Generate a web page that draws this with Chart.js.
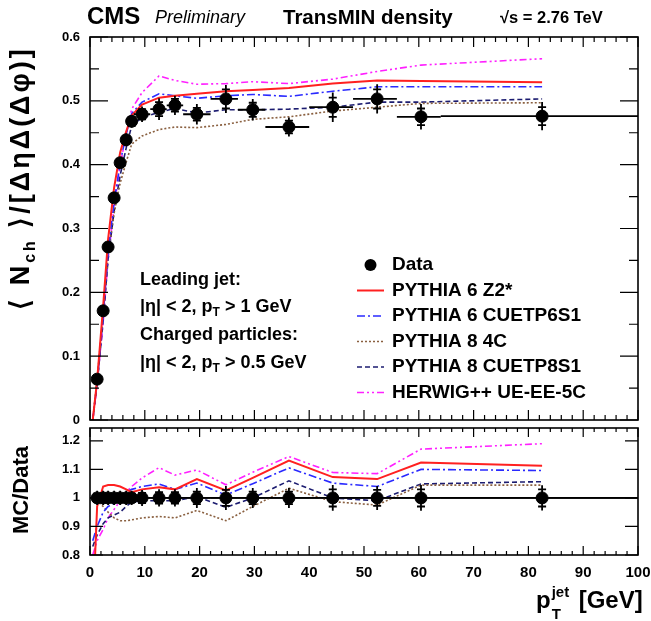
<!DOCTYPE html>
<html>
<head>
<meta charset="utf-8">
<script src="https://cdn.jsdelivr.net/npm/chart.js@4.4.0/dist/chart.umd.min.js"></script>
<style>
  body { margin: 0; background: #fff; }
  #wrap { position: relative; width: 651px; height: 621px; overflow: hidden;
          font-family: "Liberation Sans", Arial, sans-serif; font-weight: bold; color: #000; }
  canvas { position: absolute; left: 0; }
  .t { position: absolute; white-space: nowrap; line-height: 1; }
  .t sub { font-size: 12px; vertical-align: -4px; line-height: 0; }
  .ytitle { position: absolute; transform-origin: 0 0; transform: rotate(-90deg);
            text-align: center; white-space: nowrap; line-height: 1; font-size: 22px; }
</style>
</head>
<body>
<div id="wrap">
  <canvas id="topChart" width="651" height="428" style="top:0"></canvas>
  <canvas id="ratioChart" width="651" height="211" style="top:410px"></canvas>

  <div class="t" style="left:87px; top:4px; font-size:24px;">CMS</div>
  <div class="t" style="left:155px; top:8px; font-size:18px; font-weight:normal; font-style:italic;">Preliminary</div>
  <div class="t" style="left:283px; top:7px; font-size:20.5px;">TransMIN density</div>
  <div class="t" style="left:500px; top:9px; font-size:16.5px;">&radic;s = 2.76 TeV</div>

  <div class="ytitle" style="left:7px; top:318px; width:280px; font-size:27px; letter-spacing:3px;">&#10216; N<sub style="font-size:16px; vertical-align:-6px;">ch</sub> &#10217;/[&Delta;&eta;&Delta;(&Delta;&phi;)]</div>
  <div class="ytitle" style="left:10px; top:540px; width:100px;">MC/Data</div>

  <div class="t" style="left:140px; top:270px; font-size:18px;">Leading jet:</div>
  <div class="t" style="left:140px; top:297px; font-size:18px;">|&eta;| &lt; 2, p<sub>T</sub> &gt; 1 GeV</div>
  <div class="t" style="left:140px; top:325px; font-size:18px;">Charged particles:</div>
  <div class="t" style="left:140px; top:353px; font-size:18px;">|&eta;| &lt; 2, p<sub>T</sub> &gt; 0.5 GeV</div>

  <div class="t" style="left:536px; top:588px; font-size:24px;">p<span style="display:inline-block; position:relative; width:28px; height:10px;"><span style="position:absolute; left:1px; top:-14px; font-size:15px;">jet</span><span style="position:absolute; left:1px; top:8px; font-size:15px;">T</span></span>[GeV]</div>
</div>

<script>
// data points (bin mean pT, bin edges, density, errors)
const ptX     = [1.3, 2.4, 3.3, 4.4, 5.5, 6.6, 7.6, 9.5, 12.6, 15.5, 19.5, 24.8, 29.7, 36.3, 44.3, 52.4, 60.4, 82.5];
const binLo   = [1, 2, 3, 4, 5, 6, 7, 8, 11, 14, 17, 22, 27, 32, 40, 48, 56, 64];
const binHi   = [2, 3, 4, 5, 6, 7, 8, 11, 14, 17, 22, 27, 32, 40, 48, 56, 64, 100];
const dataY   = [0.064, 0.171, 0.271, 0.348, 0.403, 0.439, 0.468, 0.479, 0.487, 0.493, 0.479, 0.503, 0.486, 0.459, 0.490, 0.503, 0.475, 0.476];
const dataErr = [0.003, 0.005, 0.007, 0.008, 0.009, 0.010, 0.010, 0.012, 0.017, 0.015, 0.016, 0.022, 0.017, 0.015, 0.023, 0.023, 0.020, 0.022];
const dataErrIn = [0.002, 0.003, 0.004, 0.005, 0.006, 0.006, 0.007, 0.008, 0.011, 0.010, 0.010, 0.015, 0.011, 0.010, 0.015, 0.015, 0.013, 0.014];
const ratioY   = [1, 1, 1, 1, 1, 1, 1, 1, 1, 1, 1, 1, 1, 1, 1, 1, 1, 1];
const ratioErr = [0.025, 0.025, 0.025, 0.025, 0.025, 0.025, 0.025, 0.028, 0.03, 0.03, 0.035, 0.042, 0.035, 0.035, 0.045, 0.042, 0.045, 0.044];
const ratioErrIn = [0.015, 0.015, 0.015, 0.015, 0.015, 0.015, 0.015, 0.018, 0.02, 0.02, 0.022, 0.028, 0.022, 0.022, 0.03, 0.028, 0.03, 0.03];

// MC predictions, same pT points plus a starting point
const mcX = [0.5].concat(ptX);
const z2Top      = [0.0, 0.062, 0.178, 0.283, 0.364, 0.419, 0.452, 0.477, 0.494, 0.505, 0.508, 0.511, 0.515, 0.517, 0.520, 0.527, 0.532, 0.531, 0.529];
const cuetp6Top  = [0.0, 0.058, 0.163, 0.263, 0.341, 0.403, 0.448, 0.480, 0.498, 0.511, 0.508, 0.504, 0.508, 0.510, 0.507, 0.515, 0.522, 0.522, 0.522];
const p8c4Top    = [0.0, 0.063, 0.166, 0.257, 0.324, 0.371, 0.404, 0.432, 0.445, 0.455, 0.459, 0.458, 0.463, 0.471, 0.475, 0.484, 0.490, 0.496, 0.497];
const cuetp8Top  = [0.0, 0.056, 0.156, 0.252, 0.327, 0.383, 0.426, 0.461, 0.474, 0.482, 0.488, 0.481, 0.486, 0.486, 0.487, 0.490, 0.498, 0.498, 0.503];
const herwigTop  = [0.0, 0.055, 0.153, 0.252, 0.334, 0.399, 0.448, 0.487, 0.513, 0.539, 0.532, 0.526, 0.527, 0.530, 0.527, 0.534, 0.546, 0.556, 0.566];

const z2Ratio     = [0.60, 0.97, 1.04, 1.045, 1.045, 1.04, 1.03, 1.02, 1.03, 1.037, 1.03, 1.066, 1.026, 1.07, 1.131, 1.073, 1.066, 1.124, 1.113];
const cuetp6Ratio = [0.85, 0.90, 0.95, 0.97, 0.98, 1.00, 1.02, 1.03, 1.04, 1.049, 1.03, 1.052, 1.01, 1.05, 1.105, 1.052, 1.04, 1.10, 1.096];
const p8c4Ratio   = [1.00, 0.99, 0.97, 0.95, 0.93, 0.92, 0.92, 0.923, 0.93, 0.935, 0.93, 0.956, 0.92, 0.97, 1.034, 0.987, 0.975, 1.045, 1.045];
const cuetp8Ratio = [0.83, 0.87, 0.91, 0.93, 0.94, 0.95, 0.97, 0.985, 0.99, 0.99, 0.99, 1.005, 0.967, 1.0, 1.06, 1.0, 0.99, 1.049, 1.057];
const herwigRatio = [0.80, 0.85, 0.89, 0.93, 0.96, 0.99, 1.02, 1.04, 1.07, 1.106, 1.08, 1.098, 1.046, 1.09, 1.145, 1.089, 1.085, 1.171, 1.19];

const xTicks = [0, 10, 20, 30, 40, 50, 60, 70, 80, 90, 100];
const topYTicks = [0, 0.1, 0.2, 0.3, 0.4, 0.5, 0.6];
const ratioYTicks = [0.8, 0.9, 1.0, 1.1, 1.2];
const unityX = [0, 100];
const unityY = [1, 1];

const FONT = "'Liberation Sans', Arial, sans-serif";

const mcStyles = [
  { label: "PYTHIA 6 Z2*",      color: "#ff2020", dash: [],                  width: 2 },
  { label: "PYTHIA 6 CUETP6S1", color: "#2a2aff", dash: [8, 3, 2, 3],        width: 1.6 },
  { label: "PYTHIA 8 4C",       color: "#8a6040", dash: [2, 2],              width: 1.6 },
  { label: "PYTHIA 8 CUETP8S1", color: "#1c1c70", dash: [5, 3],              width: 1.6 },
  { label: "HERWIG++ UE-EE-5C", color: "#ff20ff", dash: [7, 3, 2, 3, 2, 3],  width: 1.6 }
];

function pts(xs, ys) {
  return xs.map((x, i) => ({ x, y: ys[i] }));
}

function mcSets(series) {
  return series.map((ys, i) => ({
    label: mcStyles[i].label,
    data: pts(mcX, ys),
    showLine: true,
    borderColor: mcStyles[i].color,
    borderDash: mcStyles[i].dash,
    borderWidth: mcStyles[i].width,
    pointRadius: 0,
    tension: 0
  }));
}

// inward ticks on all four sides + frame
const frameTicks = {
  id: "frameTicks",
  afterDatasetsDraw(chart, args, o) {
    const { ctx, chartArea: a, scales } = chart;
    ctx.save();
    ctx.strokeStyle = "#000";
    ctx.lineWidth = 1.2;
    ctx.beginPath();
    for (let i = 0; i < xTicks.length; i++) {
      const v = xTicks[i];
      const sub = i < xTicks.length - 1 ? (xTicks[i + 1] - v) / 5 : 0;
      for (let k = 0; k < (sub ? 5 : 1); k++) {
        const px = scales.x.getPixelForValue(v + k * sub);
        const len = k === 0 ? o.xMajor : o.xMinor;
        ctx.moveTo(px, a.bottom); ctx.lineTo(px, a.bottom - len);
        ctx.moveTo(px, a.top); ctx.lineTo(px, a.top + len);
      }
    }
    const yt = o.yTicks;
    for (let i = 0; i < yt.length; i++) {
      const draw = (v, len) => {
        const py = scales.y.getPixelForValue(v);
        ctx.moveTo(a.left, py); ctx.lineTo(a.left + len, py);
        ctx.moveTo(a.right, py); ctx.lineTo(a.right - len, py);
      };
      draw(yt[i], o.yMajor);
      if (o.yMinor && i < yt.length - 1) draw((yt[i] + yt[i + 1]) / 2, o.yMinor);
    }
    ctx.stroke();
    ctx.lineWidth = 1.6;
    ctx.strokeRect(a.left, a.top, a.width, a.height);
    ctx.restore();
  }
};

// x bin widths and vertical error bars with inner caps
const errorBars = {
  id: "errorBars",
  afterDatasetsDraw(chart) {
    const { ctx, scales: { x, y } } = chart;
    ctx.save();
    ctx.strokeStyle = "#000";
    ctx.lineWidth = 1.8;
    chart.data.datasets.forEach(ds => {
      if (!ds.errTot) return;
      ds.data.forEach((p, j) => {
        const px = x.getPixelForValue(p.x), py = y.getPixelForValue(p.y);
        ctx.beginPath();
        ctx.moveTo(x.getPixelForValue(ds.xLo[j]), py);
        ctx.lineTo(x.getPixelForValue(ds.xHi[j]), py);
        ctx.moveTo(px, y.getPixelForValue(p.y + ds.errTot[j]));
        ctx.lineTo(px, y.getPixelForValue(p.y - ds.errTot[j]));
        [1, -1].forEach(s => {
          const cy = y.getPixelForValue(p.y + s * ds.errIn[j]);
          ctx.moveTo(px - 4, cy); ctx.lineTo(px + 4, cy);
        });
        ctx.stroke();
      });
    });
    ctx.restore();
  }
};

const legendBox = {
  id: "legendBox",
  afterDraw(chart, args, o) {
    const ctx = chart.ctx;
    ctx.save();
    ctx.font = "bold 19px " + FONT;
    ctx.textBaseline = "middle";
    chart.data.datasets.forEach((ds, i) => {
      const y = o.y0 + i * o.dy;
      if (ds.showLine) {
        ctx.strokeStyle = ds.borderColor;
        ctx.lineWidth = ds.borderWidth;
        ctx.setLineDash(ds.borderDash);
        ctx.beginPath();
        ctx.moveTo(o.x0, y); ctx.lineTo(o.x1, y);
        ctx.stroke();
        ctx.setLineDash([]);
      } else {
        ctx.fillStyle = "#000";
        ctx.beginPath();
        ctx.arc((o.x0 + o.x1) / 2, y, 6, 0, Math.PI * 2);
        ctx.fill();
      }
      ctx.fillStyle = "#000";
      ctx.fillText(ds.label, o.textX, y);
    });
    ctx.restore();
  }
};

const tickFont = { family: FONT, size: 13, weight: "bold" };

function yAxis(min, max, ticks, fmt) {
  return {
    type: "linear", min, max,
    grid: { display: false, drawTicks: false },
    border: { display: false },
    afterBuildTicks: s => { s.ticks = ticks.map(v => ({ value: v })); },
    afterFit: s => { s.width = 90; s.paddingTop = 0; s.paddingBottom = 0; },
    ticks: { font: tickFont, color: "#000", padding: 10, callback: fmt }
  };
}

new Chart(document.getElementById("topChart"), {
  type: "scatter",
  data: {
    datasets: [{
      label: "Data",
      data: pts(ptX, dataY),
      pointRadius: 6,
      pointBackgroundColor: "#000",
      pointBorderColor: "#000",
      showLine: false,
      errTot: dataErr, errIn: dataErrIn, xLo: binLo, xHi: binHi
    }].concat(mcSets([z2Top, cuetp6Top, p8c4Top, cuetp8Top, herwigTop]))
  },
  options: {
    responsive: false,
    animation: false,
    layout: { padding: { top: 37, right: 13, bottom: 8, left: 0 } },
    scales: {
      x: { type: "linear", min: 0, max: 100, display: false },
      y: yAxis(0, 0.6, topYTicks, v => v === 0 ? "0" : v.toFixed(1))
    },
    plugins: {
      legend: { display: false },
      tooltip: { enabled: false },
      frameTicks: { xMajor: 10, xMinor: 5, yMajor: 18, yMinor: 9, yTicks: topYTicks },
      legendBox: { x0: 357, x1: 384, textX: 392, y0: 265, dy: 25.5 }
    }
  },
  plugins: [errorBars, frameTicks, legendBox]
});

new Chart(document.getElementById("ratioChart"), {
  type: "scatter",
  data: {
    datasets: [{
      label: "Data",
      data: pts(ptX, ratioY),
      pointRadius: 6,
      pointBackgroundColor: "#000",
      pointBorderColor: "#000",
      showLine: false,
      errTot: ratioErr, errIn: ratioErrIn, xLo: binLo, xHi: binHi
    }].concat(mcSets([z2Ratio, cuetp6Ratio, p8c4Ratio, cuetp8Ratio, herwigRatio]), [{
      label: "unity",
      data: pts(unityX, unityY),
      showLine: true,
      borderColor: "#000",
      borderWidth: 1.6,
      pointRadius: 0
    }])
  },
  options: {
    responsive: false,
    animation: false,
    layout: { padding: { top: 18, right: 13, bottom: 0, left: 0 } },
    scales: {
      x: {
        type: "linear", min: 0, max: 100,
        grid: { display: false, drawTicks: false },
        border: { display: false },
        afterBuildTicks: s => { s.ticks = xTicks.map(v => ({ value: v })); },
        afterFit: s => { s.height = 66; s.paddingLeft = 0; s.paddingRight = 0; },
        ticks: { font: { family: FONT, size: 15, weight: "bold" }, color: "#000", padding: 9, maxRotation: 0 }
      },
      y: yAxis(0.8, 1.245, ratioYTicks, v => String(Number(v.toFixed(1))))
    },
    plugins: {
      legend: { display: false },
      tooltip: { enabled: false },
      frameTicks: { xMajor: 9, xMinor: 4, yMajor: 13, yMinor: 0, yTicks: ratioYTicks }
    }
  },
  plugins: [errorBars, frameTicks]
});
</script>
</body>
</html>
